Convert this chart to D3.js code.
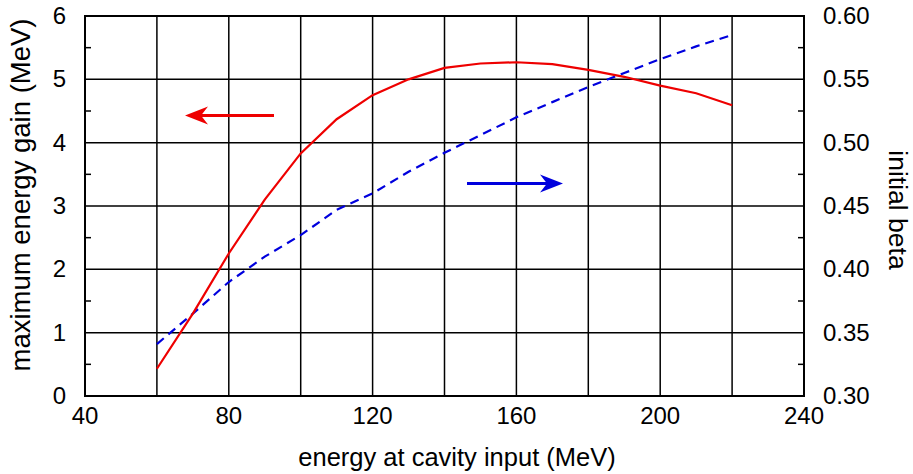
<!DOCTYPE html>
<html>
<head>
<meta charset="utf-8">
<script src="https://cdn.jsdelivr.net/npm/d3@7"></script>
<style>
  body { margin: 0; background: #fff; }
  text { font-family: "Liberation Sans", Arial, sans-serif; fill: #000; }
</style>
</head>
<body>
<div id="chart"></div>
<script>
// energy at cavity input (MeV)
var energy = [60, 70, 80, 90, 100, 110, 120, 130, 140, 150, 160, 170, 180, 190, 200, 210, 220];
// maximum energy gain (MeV), left axis
var gain = [0.43, 1.30, 2.25, 3.10, 3.83, 4.37, 4.75, 5.00, 5.18, 5.25, 5.27, 5.24, 5.15, 5.04, 4.90, 4.78, 4.59];
// initial beta, right axis
var beta = [0.341, 0.365, 0.390, 0.410, 0.427, 0.447, 0.460, 0.477, 0.492, 0.506, 0.520, 0.532, 0.544, 0.555, 0.566, 0.576, 0.585];

var xTicks = [40, 80, 120, 160, 200, 240];
var yLeftTicks = [0, 1, 2, 3, 4, 5, 6];
var yRightTicks = [0.30, 0.35, 0.40, 0.45, 0.50, 0.55, 0.60];

var width = 913, height = 474;
var margin = {left: 85, right: 109, top: 16, bottom: 78};

var svg = d3.select("#chart").append("svg")
    .attr("width", width)
    .attr("height", height);

var x = d3.scaleLinear().domain([40, 240]).range([margin.left, width - margin.right]);
var y = d3.scaleLinear().domain([0, 6]).range([height - margin.bottom, margin.top]);
var y2 = d3.scaleLinear().domain([0.30, 0.60]).range([height - margin.bottom, margin.top]);

var g = svg.append("g");

// grid
g.selectAll("line.vgrid")
  .data(d3.range(40, 241, 20))
  .enter().append("line")
  .attr("x1", d => x(d)).attr("x2", d => x(d))
  .attr("y1", y(0)).attr("y2", y(6))
  .attr("stroke", "#000").attr("stroke-width", 1.5);

g.selectAll("line.hgrid")
  .data(yLeftTicks)
  .enter().append("line")
  .attr("x1", x(40)).attr("x2", x(240))
  .attr("y1", d => y(d)).attr("y2", d => y(d))
  .attr("stroke", "#000").attr("stroke-width", 1.5);

// minor ticks, inward
g.selectAll("line.lminor")
  .data(d3.range(0.5, 6, 1))
  .enter().append("line")
  .attr("x1", x(40)).attr("x2", x(40) + 6)
  .attr("y1", d => y(d)).attr("y2", d => y(d))
  .attr("stroke", "#000").attr("stroke-width", 1.5);

g.selectAll("line.rminor")
  .data(d3.range(0.325, 0.6, 0.05))
  .enter().append("line")
  .attr("x1", x(240) - 6).attr("x2", x(240))
  .attr("y1", d => y2(d)).attr("y2", d => y2(d))
  .attr("stroke", "#000").attr("stroke-width", 1.5);

// frame
g.append("rect")
  .attr("x", x(40)).attr("y", y(6))
  .attr("width", x(240) - x(40)).attr("height", y(0) - y(6))
  .attr("fill", "none").attr("stroke", "#000").attr("stroke-width", 2);

// tick labels
svg.selectAll("text.xt")
  .data(xTicks)
  .enter().append("text")
  .attr("x", d => x(d)).attr("y", y(0) + 28)
  .attr("text-anchor", "middle")
  .attr("font-size", 24)
  .text(d => d);

svg.selectAll("text.yl")
  .data(yLeftTicks)
  .enter().append("text")
  .attr("x", x(40) - 19).attr("y", d => y(d) + 8)
  .attr("text-anchor", "end")
  .attr("font-size", 24)
  .text(d => d);

svg.selectAll("text.yr")
  .data(yRightTicks)
  .enter().append("text")
  .attr("x", x(240) + 19).attr("y", d => y2(d) + 8)
  .attr("text-anchor", "start")
  .attr("font-size", 24)
  .text(d => d3.format(".2f")(d));

// axis titles
svg.append("text")
  .attr("x", 457).attr("y", 466)
  .attr("text-anchor", "middle")
  .attr("font-size", 25.5)
  .text("energy at cavity input (MeV)");

svg.append("text")
  .attr("transform", "translate(30,195) rotate(-90)")
  .attr("text-anchor", "middle")
  .attr("font-size", 27.5)
  .text("maximum energy gain (MeV)");

svg.append("text")
  .attr("transform", "translate(889,210) rotate(90)")
  .attr("text-anchor", "middle")
  .attr("font-size", 26.5)
  .text("initial beta");

// lines
var gainLine = d3.line().x((d, i) => x(energy[i])).y(d => y(d));
var betaLine = d3.line().x((d, i) => x(energy[i])).y(d => y2(d));

g.append("path")
  .attr("d", betaLine(beta))
  .attr("fill", "none")
  .attr("stroke", "#0000dd")
  .attr("stroke-width", 2.2)
  .attr("stroke-dasharray", "9,6");

g.append("path")
  .attr("d", gainLine(gain))
  .attr("fill", "none")
  .attr("stroke", "#ee0000")
  .attr("stroke-width", 2.2);

// arrows
function arrow(x0, x1, yy, color) {
  var dir = x1 > x0 ? 1 : -1;
  g.append("line")
    .attr("x1", x0).attr("x2", x1 - dir * 12)
    .attr("y1", yy).attr("y2", yy)
    .attr("stroke", color).attr("stroke-width", 3);
  var hx = x1 - dir * 23;
  g.append("path")
    .attr("d", "M" + x1 + "," + yy + " L" + hx + "," + (yy - 9) +
               " L" + (x1 - dir * 16) + "," + yy + " L" + hx + "," + (yy + 9) + "Z")
    .attr("fill", color);
}
arrow(274, 185, 115.5, "#ee0000");
arrow(467, 563, 183.5, "#0000dd");
</script>
</body>
</html>
